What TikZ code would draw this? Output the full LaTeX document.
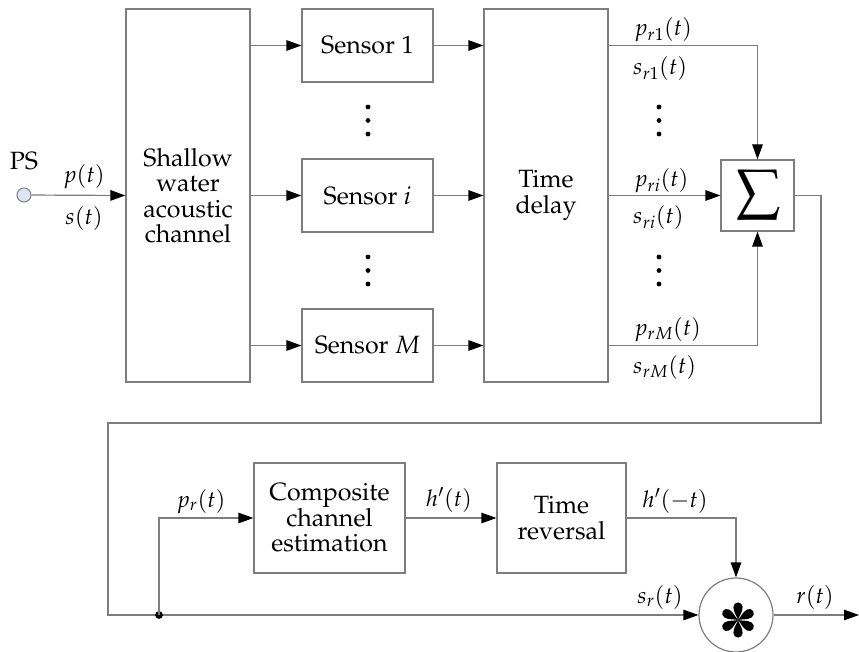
\documentclass[tikz,border=0pt]{standalone}
\usepackage[T1]{fontenc}
\usepackage{mathpazo}
\usetikzlibrary{arrows.meta}
\definecolor{linec}{RGB}{125,125,125}
\definecolor{psfill}{RGB}{220,230,242}
\newcommand\mainfs{\fontsize{25}{25.5}\selectfont}
\newcommand\labfs{\fontsize{23}{25}\selectfont}
\tikzset{
  box/.style={draw=linec, line width=1.2pt, fill=white, align=center, inner sep=0pt, font=\mainfs},
  conn/.style={draw=linec, line width=1.2pt},
  arr/.style={conn, -{Triangle[length=15pt,width=10.5pt,color=black]}},
  lab/.style={font=\labfs, inner sep=0pt, anchor=base},
  labw/.style={font=\labfs, inner sep=0pt, anchor=base west},
  vdot/.style={fill=black},
}
\begin{document}
\begin{tikzpicture}[x=1pt,y=-1pt]
\useasboundingbox (0,0) rectangle (859,652);
% blocks
\node[circle, draw=linec, fill=psfill, line width=1pt, minimum size=14pt, inner sep=0pt] (ps) at (24,195) {};
\node[lab, font=\mainfs] (pslab) at (24,170) {PS};
\node[box, minimum width=124pt, minimum height=373pt] (shallow) at (188,195.5) {Shallow\\water\\acoustic\\channel};
\node[box, minimum width=131pt, minimum height=73pt] (s1) at (367.5,45.5) {Sensor 1};
\node[box, minimum width=131pt, minimum height=73pt] (si) at (367.5,195.5) {Sensor $i$};
\node[box, minimum width=131pt, minimum height=73pt] (sM) at (367.5,345.5) {Sensor $M$};
\node[box, minimum width=124pt, minimum height=373pt] (delay) at (546,195.5) {Time\\delay};
\node[box, minimum width=73pt, minimum height=71pt] (sigma) at (757.5,195.5) {\fontsize{40}{40}\selectfont$\displaystyle\sum$};
\node[box, minimum width=151pt, minimum height=110pt] (comp) at (329.5,518) {Composite\\channel\\estimation};
\node[box, minimum width=129pt, minimum height=110pt] (rev) at (561.5,518) {Time\\reversal};
\node[circle, draw=linec, line width=1.2pt, fill=white, minimum size=74pt, inner sep=0pt] (conv) at (736,615) {};
% asterisk
\foreach \a in {90,30,-30,-90,150,210}{
  \fill[shift={(738,620)}, rotate=\a] (0,0) .. controls (3.5,0.8) and (7.5,4.6) .. (13,4.6) arc[start angle=90,end angle=-90,radius=4.6] .. controls (7.5,-4.6) and (3.5,-0.8) .. (0,0);
}
% coordinates
\coordinate (c1) at (821,423);
\coordinate (c2) at (108,615);
\coordinate (j) at (159,615);
\coordinate (out) at (859,615);
% connectors
\draw[arr] (ps) -- (shallow.west);
\draw[arr] (shallow.east |- s1.west) -- (s1.west);
\draw[arr] (shallow.east |- si.west) -- (si.west);
\draw[arr] (shallow.east |- sM.west) -- (sM.west);
\draw[arr] (s1.east) -- (delay.west |- s1.east);
\draw[arr] (si.east) -- (delay.west |- si.east);
\draw[arr] (sM.east) -- (delay.west |- sM.east);
\draw[arr] (delay.east |- s1.east) -| (sigma.north);
\draw[arr] (delay.east |- sigma.west) -- (sigma.west);
\draw[arr] (delay.east |- sM.east) -| (sigma.south);
\draw[arr] (sigma.east) -| (c1) -| (c2) -- (conv.west);
\fill (j) circle (3.9pt);
\draw[arr] (j) |- (comp.west);
\draw[arr] (comp.east) -- (rev.west);
\draw[arr] (rev.east) -| (conv.north);
\draw[arr] (conv.east) -- (out);
% dots
\foreach \x in {368,659}{
  \foreach \y in {107,120.5,134,257,270.5,284}{
    \fill[vdot] (\x,\y) circle (2.4pt);
  }
}
% labels
\node[lab] (lp) at (84,183) {$p(t)$};
\node[lab] (ls) at (84,225) {$s(t)$};
\node[labw] (lpr1) at (634,36) {$p_{r1}(t)$};
\node[labw] (lsr1) at (633,75) {$s_{r1}(t)$};
\node[labw] (lpri) at (634,187) {$p_{ri}(t)$};
\node[labw] (lsri) at (633,224) {$s_{ri}(t)$};
\node[labw] (lprM) at (634,335) {$p_{rM}(t)$};
\node[labw] (lsrM) at (633,373) {$s_{rM}(t)$};
\node[lab] (lpr) at (201,507) {$p_r(t)$};
\node[lab] (lh) at (449,506) {$h'(t)$};
\node[lab] (lhm) at (675,507) {$h'(-t)$};
\node[lab] (lsr) at (660,603) {$s_r(t)$};
\node[lab] (lr) at (815,603) {$r(t)$};
\end{tikzpicture}
\end{document}
